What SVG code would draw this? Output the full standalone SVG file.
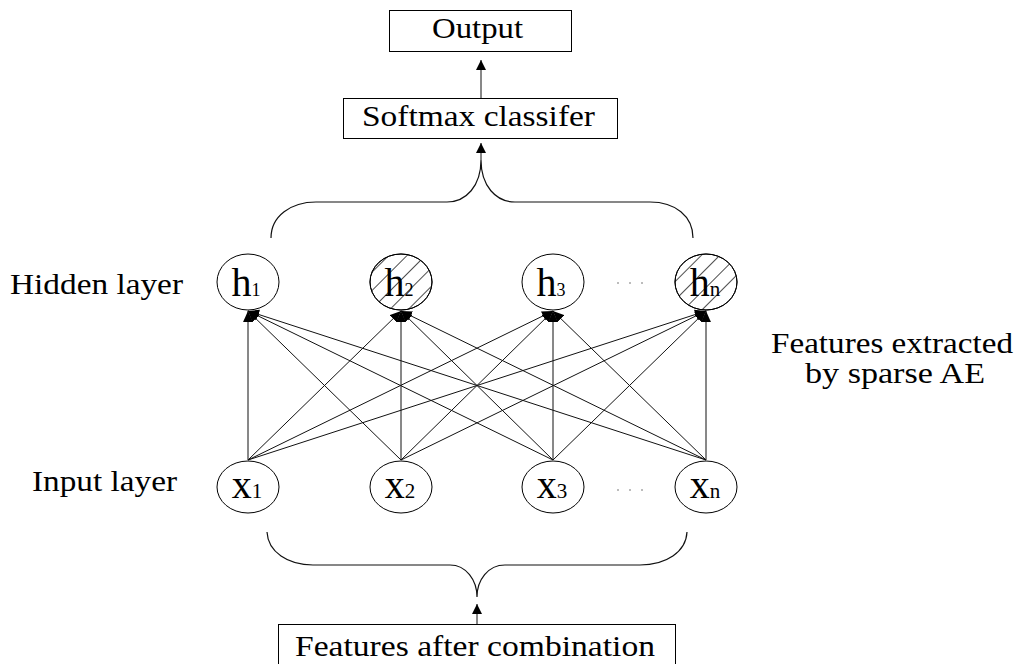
<svg xmlns="http://www.w3.org/2000/svg" width="1020" height="664" viewBox="0 0 1020 664">
<style>
.box{fill:#fff;stroke:#000;stroke-width:1}
.node{fill:#fff;stroke:#000;stroke-width:1}
.lbl{font-family:"Liberation Serif",serif;fill:#000}
.big{font-size:30px}
.conn{stroke:#111;stroke-width:1;fill:none}
.brace{stroke:#111;stroke-width:1.2;fill:none}
.dot{fill:#666}
</style>
<defs>
<marker id="ah" markerUnits="userSpaceOnUse" markerWidth="10" markerHeight="10" viewBox="0 0 10 10" refX="10" refY="5" orient="auto">
<path d="M0,0 L10,5 L0,10 z" fill="#000"/>
</marker>
<marker id="ah2" markerUnits="userSpaceOnUse" markerWidth="11" markerHeight="11" viewBox="0 0 10 10" refX="10" refY="5" orient="auto">
<path d="M0,0.5 L10,5 L0,9.5 z" fill="#000"/>
</marker>
<pattern id="hatch" patternUnits="userSpaceOnUse" width="13" height="13" patternTransform="rotate(45)">
<line x1="0" y1="0" x2="0" y2="13" stroke="#000" stroke-width="1.4"/>
</pattern>
</defs>

<g id="output">
<rect class="box" x="389.5" y="10.5" width="182" height="41"/>
<text class="lbl" x="432" y="38" font-size="30" textLength="91" lengthAdjust="spacingAndGlyphs">Output</text>
</g>
<g id="softmax">
<rect class="box" x="343.5" y="98.5" width="274" height="40"/>
<text class="lbl big" x="362" y="126" textLength="233" lengthAdjust="spacingAndGlyphs">Softmax classifer</text>
</g>
<g id="combo">
<rect class="box" x="278.5" y="624.5" width="397" height="50"/>
<text class="lbl big" x="295" y="656" textLength="360" lengthAdjust="spacingAndGlyphs">Features after combination</text>
</g>
<g id="labels">
<text class="lbl big" x="10" y="294" textLength="173" lengthAdjust="spacingAndGlyphs">Hidden layer</text>
<text class="lbl big" x="32" y="491" textLength="145" lengthAdjust="spacingAndGlyphs">Input layer</text>
<text class="lbl big" x="771" y="353" textLength="242" lengthAdjust="spacingAndGlyphs">Features extracted</text>
<text class="lbl big" x="805" y="383" textLength="180" lengthAdjust="spacingAndGlyphs">by sparse AE</text>
</g>

<g id="connectors">
<line class="conn" x1="481" y1="98" x2="481" y2="60" marker-end="url(#ah)"/>
<line class="conn" x1="481" y1="160" x2="481" y2="143" marker-end="url(#ah)"/>
<line class="conn" x1="477" y1="624" x2="477" y2="604" marker-end="url(#ah)"/>
<path class="brace" d="M271,238 C271,216 291,202 316,202 L447,202 C466,202 481,186 481,160 C481,186 496,202 515,202 L650,202 C675,202 693,216 693,238"/>
<path class="brace" d="M267,532 C268,552 288,565 313,565 L450,565 C466,565 477,580 477,597 C477,580 488,565 505,565 L640,565 C666,565 686,552 687,532"/>
<g marker-end="url(#ah2)">
<line class="conn" x1="248" y1="460" x2="248" y2="311"/>
<line class="conn" x1="248" y1="460" x2="401" y2="311"/>
<line class="conn" x1="248" y1="460" x2="553" y2="311"/>
<line class="conn" x1="248" y1="460" x2="706" y2="311"/>
<line class="conn" x1="401" y1="460" x2="248" y2="311"/>
<line class="conn" x1="401" y1="460" x2="401" y2="311"/>
<line class="conn" x1="401" y1="460" x2="553" y2="311"/>
<line class="conn" x1="401" y1="460" x2="706" y2="311"/>
<line class="conn" x1="553" y1="460" x2="248" y2="311"/>
<line class="conn" x1="553" y1="460" x2="401" y2="311"/>
<line class="conn" x1="553" y1="460" x2="553" y2="311"/>
<line class="conn" x1="553" y1="460" x2="706" y2="311"/>
<line class="conn" x1="706" y1="460" x2="248" y2="311"/>
<line class="conn" x1="706" y1="460" x2="401" y2="311"/>
<line class="conn" x1="706" y1="460" x2="553" y2="311"/>
<line class="conn" x1="706" y1="460" x2="706" y2="311"/>
</g>
</g>

<g id="h1">
<ellipse class="node" cx="248" cy="282" rx="31" ry="28"/>
<text class="lbl" x="246" y="296" text-anchor="middle"><tspan font-size="40">h</tspan><tspan font-size="18">1</tspan></text>
</g>
<g id="h2">
<ellipse class="node" cx="401" cy="282" rx="31" ry="28"/>
<text class="lbl" x="399" y="296" text-anchor="middle"><tspan font-size="40">h</tspan><tspan font-size="18">2</tspan></text>
<ellipse cx="401" cy="282" rx="31" ry="28" fill="url(#hatch)" stroke="#000" stroke-width="1"/>
</g>
<g id="h3">
<ellipse class="node" cx="553" cy="282" rx="31" ry="28"/>
<text class="lbl" x="551" y="296" text-anchor="middle"><tspan font-size="40">h</tspan><tspan font-size="18">3</tspan></text>
</g>
<g id="hn">
<ellipse class="node" cx="706" cy="282" rx="31" ry="28"/>
<text class="lbl" x="705" y="296" text-anchor="middle"><tspan font-size="40">h</tspan><tspan font-size="21">n</tspan></text>
<ellipse cx="706" cy="282" rx="31" ry="28" fill="url(#hatch)" stroke="#000" stroke-width="1"/>
</g>
<g id="x1">
<ellipse class="node" cx="248" cy="487" rx="31" ry="26"/>
<text class="lbl" x="247" y="498" text-anchor="middle"><tspan font-size="40">x</tspan><tspan font-size="21">1</tspan></text>
</g>
<g id="x2">
<ellipse class="node" cx="401" cy="487" rx="31" ry="26"/>
<text class="lbl" x="400" y="498" text-anchor="middle"><tspan font-size="40">x</tspan><tspan font-size="21">2</tspan></text>
</g>
<g id="x3">
<ellipse class="node" cx="553" cy="487" rx="31" ry="26"/>
<text class="lbl" x="552" y="498" text-anchor="middle"><tspan font-size="40">x</tspan><tspan font-size="21">3</tspan></text>
</g>
<g id="xn">
<ellipse class="node" cx="706" cy="487" rx="31" ry="26"/>
<text class="lbl" x="705" y="498" text-anchor="middle"><tspan font-size="40">x</tspan><tspan font-size="21">n</tspan></text>
</g>
<g id="dots">
<circle class="dot" cx="618" cy="283" r="0.8"/>
<circle class="dot" cx="630" cy="283" r="0.8"/>
<circle class="dot" cx="642" cy="283" r="0.8"/>
<circle class="dot" cx="618" cy="490" r="0.8"/>
<circle class="dot" cx="630" cy="490" r="0.8"/>
<circle class="dot" cx="642" cy="490" r="0.8"/>
</g>
</svg>
